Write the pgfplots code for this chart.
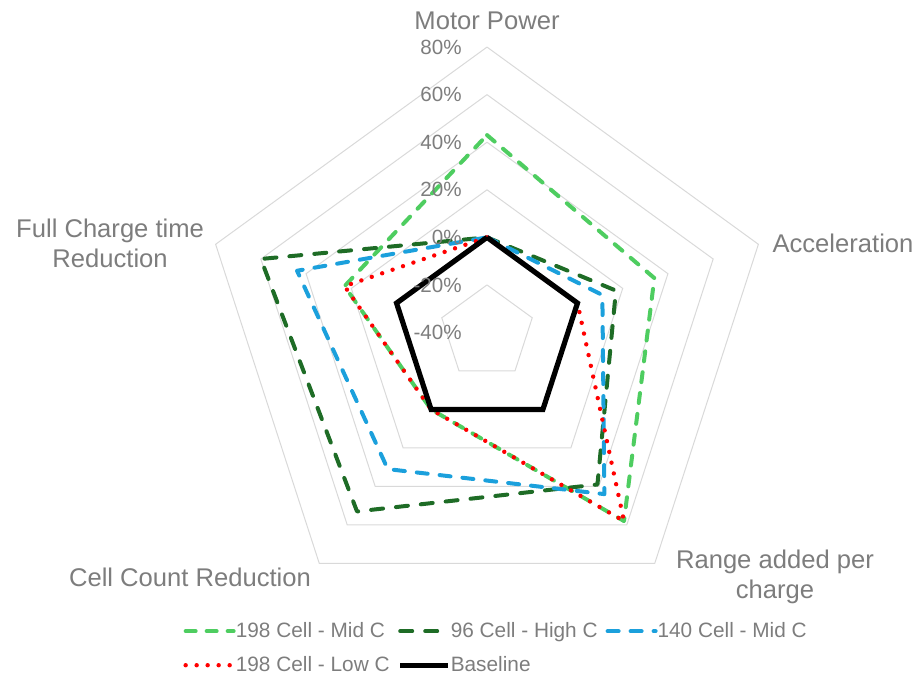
\documentclass[border=0pt]{standalone}
\usepackage{pgfplots}
\pgfplotsset{compat=1.18}
\usepackage{pgfplotstable}
\usepackage{fontspec}
\setmainfont{Liberation Sans}
\definecolor{lgreen}{RGB}{78,205,96}
\definecolor{dgreen}{RGB}{30,108,38}
\definecolor{sblue}{RGB}{27,160,220}
\definecolor{gridc}{RGB}{217,217,217}
\definecolor{txtgray}{RGB}{125,125,125}
% a = direction of the spoke (degrees), s1..s5 = values in percent
\pgfplotstableread{
a    s1  s2  s3  s4  s5
90   43  0   0   0   0
18   34  17  11  0   0
-54  58  39  44  58  0
-126 0   53  31  0   0
162  23  60  44  23  0
90   43  0   0   0   0
}\data
\begin{document}
\begin{tikzpicture}
\begin{axis}[
  scale only axis, width=458pt, height=337.5pt,
  xmin=-204.8, xmax=180.4, ymin=-144, ymax=139.8,
  hide axis, clip=false,
  legend columns=3,
  legend cell align=left,
  legend style={draw=none, fill=none, at={(axis cs:3.4,-121.6)}, anchor=north,
    font=\fontsize{10.4}{12}\selectfont, text=txtgray,
    nodes={inner sep=0pt},
    /tikz/every odd column/.append style={column sep=0pt},
    /tikz/every even column/.append style={column sep=4pt},
    row sep=8pt, inner sep=0pt},
  legend image code/.code={\draw[#1] (0pt,0pt) -- (24pt,0pt);},
]
\pgfplotsinvokeforeach{20,40,60,80,100,120}{
  \addplot[gridc, line width=0.5pt, forget plot] table[x expr={#1*cos(\thisrow{a})}, y expr={#1*sin(\thisrow{a})}] {\data};
}
\addplot[lgreen, line width=2pt, line cap=round, line join=round, dash pattern=on 5pt off 5.5pt]
  table[x expr={(\thisrow{s1}+40)*cos(\thisrow{a})}, y expr={(\thisrow{s1}+40)*sin(\thisrow{a})}] {\data};
\addlegendentry{198 Cell - Mid C}
\addplot[dgreen, line width=2pt, line cap=round, line join=round, dash pattern=on 6pt off 6.5pt]
  table[x expr={(\thisrow{s2}+40)*cos(\thisrow{a})}, y expr={(\thisrow{s2}+40)*sin(\thisrow{a})}] {\data};
\addlegendentry{96 Cell - High C}
\addplot[sblue, line width=2pt, line cap=round, line join=round, dash pattern=on 5.5pt off 6pt]
  table[x expr={(\thisrow{s3}+40)*cos(\thisrow{a})}, y expr={(\thisrow{s3}+40)*sin(\thisrow{a})}] {\data};
\addlegendentry{140 Cell - Mid C}
\addplot[red, line width=2.2pt, line cap=round, line join=round, dash pattern=on 0pt off 5.5pt]
  table[x expr={(\thisrow{s4}+40)*cos(\thisrow{a})}, y expr={(\thisrow{s4}+40)*sin(\thisrow{a})}] {\data};
\addlegendentry{198 Cell - Low C}
\addplot[black, line width=2.6pt, line join=miter]
  table[x expr={(\thisrow{s5}+40)*cos(\thisrow{a})}, y expr={(\thisrow{s5}+40)*sin(\thisrow{a})}] {\data};
\addlegendentry{Baseline}
% radial tick labels
\begin{scope}[every node/.style={anchor=east, text=txtgray, font=\fontsize{10.3}{12}\selectfont, inner sep=0pt}]
\node at (axis cs:-10.5,120) {80\%};
\node at (axis cs:-10.5,100) {60\%};
\node at (axis cs:-10.5,80) {40\%};
\node at (axis cs:-10.5,60) {20\%};
\node at (axis cs:-10.5,40) {0\%};
\node at (axis cs:-10.5,20) {-20\%};
\node at (axis cs:-10.5,0) {-40\%};
\end{scope}
% category labels
\begin{scope}[every node/.style={align=center, text=txtgray, font=\fontsize{12.8}{15}\selectfont, inner sep=0pt}]
\node at (axis cs:0,131.2) {Motor Power};
\node at (axis cs:149.7,37.6) {Acceleration};
\node at (axis cs:121.1,-102.8) {Range added per\\charge};
\node at (axis cs:-124.9,-102.8) {Cell Count Reduction};
\node at (axis cs:-158.5,37.6) {Full Charge time\\Reduction};
\end{scope}
\draw[draw=none] (rel axis cs:0,0) rectangle (rel axis cs:1,1);
\end{axis}
\end{tikzpicture}
\end{document}
